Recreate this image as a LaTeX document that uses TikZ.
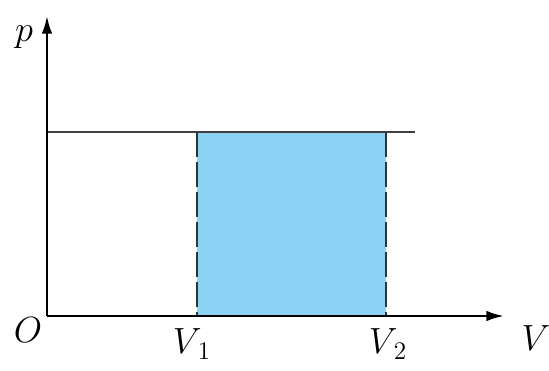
\documentclass[tikz,border=0pt]{standalone}
\usepackage{amsmath,amssymb}
\usepackage{tikz}
\usetikzlibrary{positioning, arrows.meta, calc}

\definecolor{areablue}{RGB}{140,210,245}

\tikzset{
    axis/.style={-{Latex[length=10pt, width=6pt]}, line width=1.4pt},
    level/.style={line width=0.9pt, color=black!75},
    bound/.style={line width=1.5pt, dash pattern=on 0.5cm off 0.1cm, color=black!80},
    lbl/.style={font=\huge, inner sep=1pt}
}

\begin{document}
\begin{tikzpicture}[x=0.02cm, y=0.02cm]
            \useasboundingbox (0,0) rectangle (549,370);
            
            \coordinate (O) at (47, 54);
            \coordinate (ytop) at (47, 354);
            \coordinate (xend) at (504, 54);
            \coordinate (lstart) at (47, 238);
            \coordinate (lend) at (415, 238);
            \coordinate (v1top) at (197, 238);
            \coordinate (v1) at (197, 54);
            \coordinate (v2top) at (386, 238);
            \coordinate (v2) at (386, 54);
            
            % shaded work area
            \fill[areablue] (v1) rectangle (v2top);
            
            % constant pressure line
            \draw[level] (lstart) -- (lend);
            
            % dashed bounds
            \draw[bound] (v1top) -- (v1);
            \draw[bound] (v2top) -- (v2);
            
            % axes
            \draw[axis] (O) -- (xend);
            \draw[axis] (O) -- (ytop);
            
            \node (plabel) at (24, 333) [lbl] {$p$};
            \node (olabel) at (28, 40) [lbl] {$O$};
            \node (v1label) at (192, 26) [lbl] {$V_{\,1}$};
            \node (v2label) at (388, 26) [lbl] {$V_{\,2}$};
            \node (vlabel) at (536, 32) [lbl] {$V$};
            
        \end{tikzpicture}
\end{document}
